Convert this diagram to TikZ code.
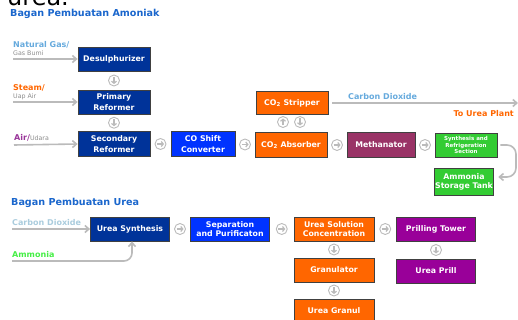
\documentclass[tikz,border=0pt]{standalone}
\usepackage{fontspec}
\setmainfont{DejaVu Sans}
\usetikzlibrary{arrows.meta, calc}

\definecolor{navy}{HTML}{003399}
\definecolor{royal}{HTML}{0033FF}
\definecolor{tangerine}{HTML}{FF6600}
\definecolor{plum}{HTML}{993366}
\definecolor{leaf}{HTML}{33CC33}
\definecolor{violet}{HTML}{990099}
\definecolor{pipe}{HTML}{BBBBBB}
\definecolor{title}{HTML}{1A66CC}
\definecolor{sky}{HTML}{66AADD}
\definecolor{mist}{HTML}{AACCDD}
\definecolor{lime}{HTML}{44EE44}
\definecolor{airpurple}{HTML}{993399}

\tikzset{
  box/.style={draw=black!75, line width=0.8pt, text=white, align=center,
    font=\bfseries\fontsize{7.8}{9.5}\selectfont, inner sep=1pt,
    minimum width=72pt, minimum height=24pt},
  feed/.style={draw=pipe, line width=1.6pt, -{Straight Barb[length=4pt,width=7pt]}},
  label/.style={font=\bfseries\fontsize{8}{9}\selectfont, inner sep=0pt, anchor=base west},
  sublabel/.style={font=\fontsize{6.3}{7}\selectfont, text=black!45, inner sep=0pt, anchor=base west},
  pics/flowdot/.style={code={
    \draw[line width=0.9pt, draw=pipe, fill=white] (0,0) circle (5.5pt);
    \draw[line width=1.2pt, draw=pipe, -{Straight Barb[length=2pt,width=5pt]}] (0,-3.5) -- (0,3.5);
  }}
}

\begin{document}
\begin{tikzpicture}[x=1pt, y=-1pt]
        \clip (0,0) rectangle (518,320);

        \node[anchor=base west, inner sep=0pt, font=\fontsize{24}{26}\selectfont] (heading) at (7,6) {urea.};

        % Amoniak
        \node[label, text=title, font=\bfseries\fontsize{9.6}{10}\selectfont] (titleA) at (10,17) {Bagan Pembuatan Amoniak};

        \node[box, fill=navy] (desulf) at (114,59) {Desulphurizer};
        \node[box, fill=navy] (primary) at (114,102) {Primary\\[1pt]Reformer};
        \node[box, fill=navy, minimum height=25pt] (secondary) at (114,144) {Secondary\\[1pt]Reformer};
        \node[box, fill=royal, minimum width=64pt, minimum height=25pt] (shift) at (203,144) {CO Shift\\[1pt]Converter};
        \node[box, fill=tangerine, minimum height=25pt] (absorber) at (291,145) {CO\textsubscript{2} Absorber};
        \node[box, fill=tangerine, minimum height=23pt] (stripper) at (292,103) {CO\textsubscript{2} Stripper};
        \node[box, fill=plum, minimum width=68pt, minimum height=25pt] (methanator) at (381,145) {Methanator};
        \node[box, fill=leaf, minimum width=62pt, font=\bfseries\fontsize{5.5}{6.3}\selectfont] (synth) at (466,145) {Synthesis and\\Refrigeration\\Section};
        \node[box, fill=leaf, minimum width=58pt, minimum height=27pt] (tank) at (464,182) {Ammonia\\Storage Tank};

        \node[label, text=sky] (gaslabel) at (13,48) {Natural Gas/};
        \node[sublabel] (gassub) at (13,56) {Gas Bumi};
        \node[label, text=tangerine] (steamlabel) at (13,91) {Steam/};
        \node[sublabel] (steamsub) at (13,99) {Uap Air};
        \node[label, text=airpurple] (airlabel) at (14,141) {Air/\textcolor{black!45}{\mdseries\fontsize{6.3}{7}\selectfont Udara}};

        \coordinate (gas) at (13,59);
        \coordinate (steam) at (13,102);
        \coordinate (air) at (14,145);
        \draw[feed] (gas) -- (desulf.west);
        \draw[feed] (steam) -- (primary.west);
        \draw[feed] (air) -- (secondary.west);

        \pic at ($(desulf.south)!0.5!(primary.north)$) {flowdot};
        \pic at ($(primary.south)!0.5!(secondary.north)$) {flowdot};
        \pic[rotate=90] at ($(secondary.east)!0.5!(shift.west)$) {flowdot};
        \pic[rotate=90] at ($(shift.east)!0.5!(absorber.west)$) {flowdot};
        \pic[rotate=90] at ($(absorber.east)!0.5!(methanator.west)$) {flowdot};
        \pic[rotate=90] at ($(methanator.east)!0.5!(synth.west)$) {flowdot};
        \pic[rotate=180] at (283,122) {flowdot};
        \pic at (300,122) {flowdot};

        \coordinate (plant) at (518,103);
        \draw[feed] ([xshift=4pt]stripper.east) -- (plant);
        \node[label, text=sky] (co2label) at (348,100) {Carbon Dioxide};
        \node[label, text=tangerine, anchor=base east] (plantlabel) at (514,117) {To Urea Plant};

        \coordinate (bend) at (516,0);
        \draw[feed, rounded corners=9pt] ([xshift=3pt]synth.east) -- (synth.east -| bend) |- ([xshift=4pt,yshift=5pt]tank.east);

        % Urea
        \node[label, text=title, font=\bfseries\fontsize{9.6}{10}\selectfont] (titleU) at (11,205) {Bagan Pembuatan Urea};

        \node[box, fill=navy, minimum width=79pt] (synthesis) at (130,229) {Urea Synthesis};
        \node[box, fill=royal, minimum width=79pt] (separation) at (230,229) {Separation\\and Purificaton};
        \node[box, fill=tangerine, minimum width=80pt] (concentration) at (334,229) {Urea Solution\\Concentration};
        \node[box, fill=violet, minimum width=79pt] (prilling) at (436,229) {Prilling Tower};
        \node[box, fill=violet, minimum width=79pt] (prill) at (436,271) {Urea Prill};
        \node[box, fill=tangerine, minimum width=80pt] (granulator) at (334,270) {Granulator};
        \node[box, fill=tangerine, minimum width=80pt] (granul) at (334,311) {Urea Granul};

        \node[label, text=mist] (co2feedlabel) at (12,225) {Carbon Dioxide};
        \node[label, text=lime] (nh3label) at (12,257) {Ammonia};

        \coordinate (co2feed) at (12,229);
        \coordinate (nh3feed) at (12,261);
        \draw[feed] (co2feed) -- (synthesis.west);
        \draw[feed, rounded corners=8pt] (nh3feed) -| ([xshift=2pt]synthesis.south);

        \pic[rotate=90] at ($(synthesis.east)!0.5!(separation.west)$) {flowdot};
        \pic[rotate=90] at ($(separation.east)!0.5!(concentration.west)$) {flowdot};
        \pic[rotate=90] at ($(concentration.east)!0.5!(prilling.west)$) {flowdot};
        \pic at ($(concentration.south)!0.5!(granulator.north)$) {flowdot};
        \pic at ($(granulator.south)!0.5!(granul.north)$) {flowdot};
        \pic at ($(prilling.south)!0.5!(prill.north)$) {flowdot};
\end{tikzpicture}
\end{document}
